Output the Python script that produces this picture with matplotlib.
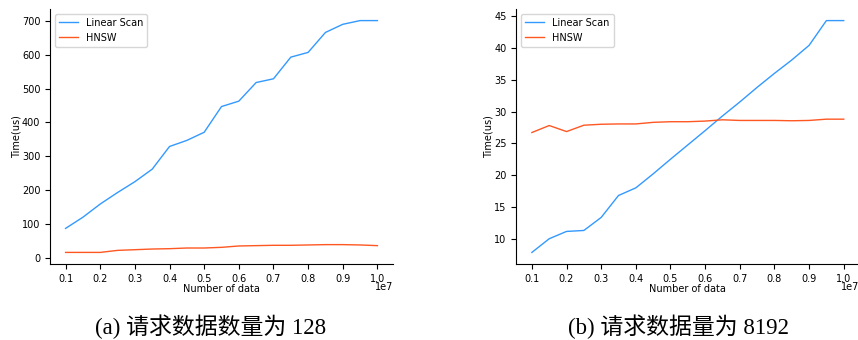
import numpy as np
import matplotlib
matplotlib.use("Agg")
import matplotlib.pyplot as plt

# data (x in units of 1e7)
x = np.arange(0.1, 1.0001, 0.05) * 1e7

linear_128 = [87, 120, 159, 193, 225, 262, 329, 347, 371, 447, 463, 518, 529, 593, 607, 666, 690, 701, 701]
hnsw_128 = [16, 16, 16, 22, 24, 26, 27, 29, 29, 31, 35, 36, 37, 37, 38, 39, 39, 38, 36]

linear_8192 = [7.85, 10.0, 11.15, 11.3, 13.35, 16.8, 18.0, 20.2, 22.5, 24.75, 27.0, 29.3, 31.5, 33.8, 36.0, 38.1, 40.4, 44.3, 44.3]
hnsw_8192 = [26.7, 27.8, 26.85, 27.85, 28.0, 28.05, 28.05, 28.3, 28.4, 28.4, 28.5, 28.7, 28.6, 28.6, 28.6, 28.55, 28.6, 28.8, 28.8]

captions = ["(a) 请求数据数量为 128", "(b) 请求数据量为 8192"]

blue = "#3399FF"
orange = "#FF5722"

plt.rcParams["font.size"] = 7
fig = plt.figure(figsize=(8.58, 3.4), dpi=100)

ax1 = fig.add_axes([50 / 858, 1 - 264 / 340, 343 / 858, 255 / 340])
ax2 = fig.add_axes([516.3 / 858, 1 - 264 / 340, 343 / 858, 255 / 340])

for ax, lin, hn in [(ax1, linear_128, hnsw_128), (ax2, linear_8192, hnsw_8192)]:
    ax.plot(x, lin, color=blue, lw=1, label="Linear Scan")
    ax.plot(x, hn, color=orange, lw=1, label="HNSW")
    ax.set_xticks(np.arange(0.1, 1.0001, 0.1) * 1e7)
    ax.set_xlabel("Number of data", labelpad=0)
    ax.set_ylabel("Time(us)", labelpad=0.5)
    ax.spines["top"].set_visible(False)
    ax.spines["right"].set_visible(False)
    ax.xaxis.OFFSETTEXTPAD = -1  # pull "1e7" up next to the tick labels
    ax.legend(loc="upper left")

ax1.set_yticks(range(0, 701, 100))
ax2.set_yticks(range(10, 46, 5))

cap_font = ["Liberation Serif", "Noto Sans CJK SC"]
fig.text(211 / 858, 1 - 327 / 340, captions[0], ha="center", va="center", fontsize=16.5, family=cap_font)
fig.text(679 / 858, 1 - 327 / 340, captions[1], ha="center", va="center", fontsize=16.5, family=cap_font)

fig.savefig("out.png", dpi=100)
